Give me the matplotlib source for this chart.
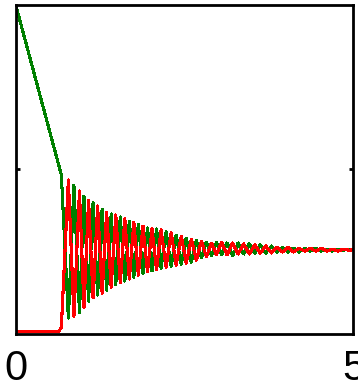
import matplotlib
matplotlib.use("Agg")
import matplotlib.pyplot as plt

# ---- data ----
# time of each drawn vertex (start, end of the ramp, then each peak / trough)
t_pts = [0.0, 0.64, 0.672, 0.776, 0.858, 0.940, 1.007, 1.075, 1.142, 1.209,
         1.276, 1.343, 1.410, 1.478, 1.545, 1.612, 1.679, 1.746, 1.813, 1.881,
         1.948, 2.015, 2.082, 2.149, 2.224, 2.299, 2.373, 2.448, 2.522, 2.597,
         2.672, 2.746, 2.821, 2.896, 2.970, 3.045, 3.127, 3.209, 3.291, 3.373,
         3.455, 3.537, 3.619, 3.701, 3.784, 3.866, 3.948, 4.030, 4.112, 4.194,
         4.276, 4.358, 4.440, 4.522, 4.604, 4.687, 4.769, 4.851, 4.933, 5.0]

green_vals = [1.0, 0.505, 0.48, 0.04, 0.449, 0.058, 0.415, 0.092, 0.394, 0.111,
              0.375, 0.126, 0.360, 0.142, 0.351, 0.154, 0.338, 0.166, 0.329, 0.178,
              0.317, 0.185, 0.314, 0.194, 0.305, 0.200, 0.295, 0.206, 0.286, 0.212,
              0.280, 0.225, 0.274, 0.231, 0.274, 0.234, 0.271, 0.231, 0.271, 0.237,
              0.268, 0.240, 0.265, 0.240, 0.262, 0.243, 0.258, 0.243, 0.255, 0.243,
              0.255, 0.246, 0.255, 0.246, 0.252, 0.246, 0.252, 0.249, 0.252, 0.250]

red_vals = [0.0, 0.0, 0.012, 0.465, 0.046, 0.431, 0.074, 0.403, 0.102, 0.385,
            0.117, 0.366, 0.135, 0.357, 0.148, 0.345, 0.160, 0.335, 0.172, 0.323,
            0.182, 0.314, 0.188, 0.311, 0.197, 0.302, 0.203, 0.292, 0.209, 0.283,
            0.218, 0.277, 0.228, 0.271, 0.234, 0.274, 0.234, 0.271, 0.237, 0.268,
            0.237, 0.265, 0.240, 0.262, 0.240, 0.258, 0.243, 0.258, 0.243, 0.255,
            0.246, 0.255, 0.246, 0.255, 0.246, 0.252, 0.246, 0.252, 0.249, 0.250]

x_ticks = [0, 5]
x_labels = ["0", "5"]
y_ticks = [0.5]


def main():
    fig = plt.figure(figsize=(3.58, 3.84), dpi=100)
    ax = fig.add_axes([0.0447, 0.1302, 0.9427, 0.856])

    ax.plot(t_pts, green_vals, color="#008000", lw=1.5, antialiased=False)
    ax.plot(t_pts, red_vals, color="#ff0000", lw=1.5, antialiased=False)

    ax.set_xlim(0, 5)
    ax.set_ylim(-0.009, 1.002)

    for s in ax.spines.values():
        s.set_linewidth(2.0)
        s.set_color("black")

    ax.set_yticks(y_ticks)
    ax.set_yticklabels([])
    ax.tick_params(axis="y", direction="in", length=3, width=2.0,
                   left=True, right=True)

    ax.set_xticks(x_ticks)
    ax.set_xticklabels(x_labels, fontsize=30, family="Liberation Sans")
    ax.tick_params(axis="x", length=0, pad=11)

    fig.savefig("out.png", dpi=100)
    plt.close(fig)


if __name__ == "__main__":
    main()
